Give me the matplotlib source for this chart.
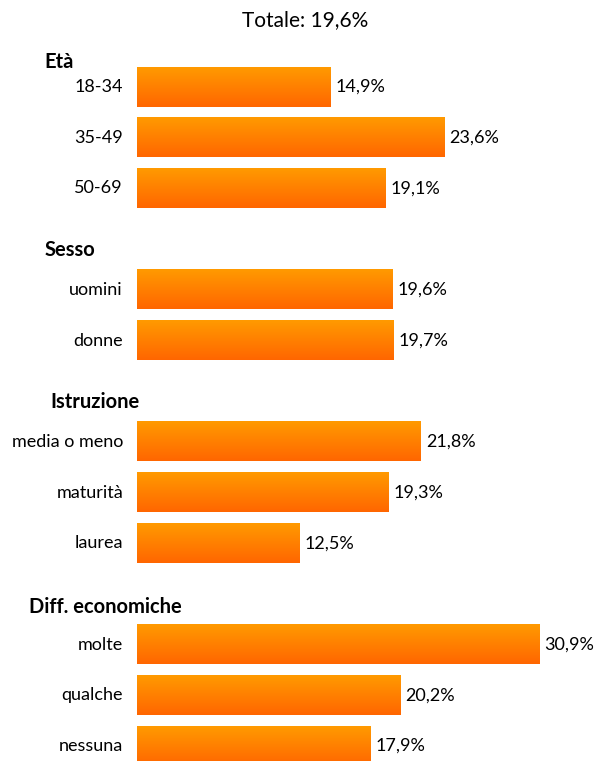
import matplotlib
matplotlib.use("Agg")
import matplotlib.pyplot as plt
from matplotlib.colors import LinearSegmentedColormap
import numpy as np

plt.rcParams['font.family'] = ['Lato', 'DejaVu Sans']

title = "Totale: 19,6%"
groups = ["Età", "Sesso", "Istruzione", "Diff. economiche"]
labels = [["18-34", "35-49", "50-69"],
          ["uomini", "donne"],
          ["media o meno", "maturità", "laurea"],
          ["molte", "qualche", "nessuna"]]
values = [[14.9, 23.6, 19.1],
          [19.6, 19.7],
          [21.8, 19.3, 12.5],
          [30.9, 20.2, 17.9]]

# layout in pixels of the 597x761 picture
W, H = 597, 761
x0_px, px_per_unit = 137, 13.02
y0_px, slot_px = 87, 50.7
header_px = [62, 250, 402, 607]
header_x = [44, 45, 50, 29]

fig = plt.figure(figsize=(W / 100, H / 100), dpi=100)
ax = fig.add_axes([x0_px / W, 0, (W - x0_px) / W, 1])
ax.axis("off")

cmap = LinearSegmentedColormap.from_list("orng", ["#ff9a00", "#ff6600"])
grad = np.linspace(0, 1, 100).reshape(-1, 1)

slot = 0
for g, name in enumerate(groups):
    fig.text(header_x[g] / W, 1 - header_px[g] / H, name, fontsize=14.5,
             fontweight="bold", ha="left", va="center", color="black")
    for lab, v in zip(labels[g], values[g]):
        ax.barh(slot, v, height=0.77, color="none")
        ax.imshow(grad, cmap=cmap, aspect="auto", interpolation="bilinear",
                  extent=[0, v, slot + 0.385, slot - 0.385], zorder=2)
        ax.text(-14 / px_per_unit, slot, lab, ha="right", va="center", fontsize=13)
        ax.text(v + 5 / px_per_unit, slot, f"{v:.1f}%".replace(".", ","),
                ha="left", va="center", fontsize=13)
        slot += 1
    slot += 1

ax.set_xlim(0, (W - x0_px) / px_per_unit)
ax.set_ylim((H - y0_px) / slot_px, -y0_px / slot_px)

fig.text(305 / W, 1 - 20 / H, title, ha="center", va="center", fontsize=15)

fig.savefig("out.png", dpi=100, facecolor="white")
